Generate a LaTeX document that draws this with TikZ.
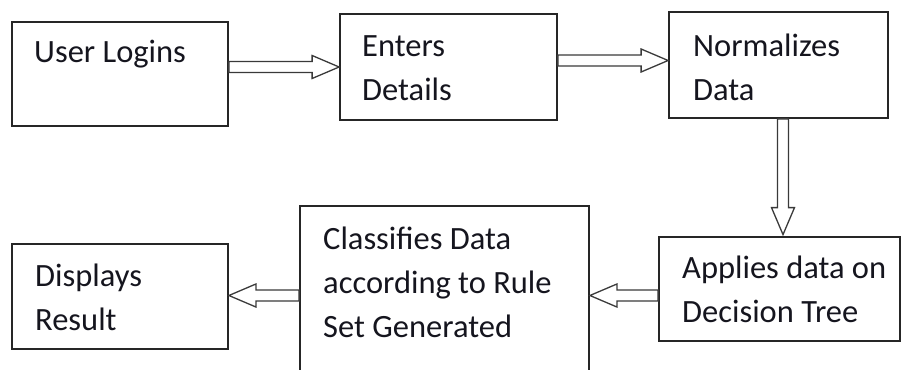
\documentclass[tikz,border=0pt]{standalone}
\usepackage{fontspec}
\setmainfont{Carlito}
\usetikzlibrary{calc}
\definecolor{boxline}{HTML}{262626}
\definecolor{arrline}{HTML}{3A3A3A}
\definecolor{txt}{HTML}{15151E}
\tikzset{
  procbox/.style={draw=boxline, line width=1.8pt, rectangle, inner sep=0pt},
  boxtext/.style={anchor=base west, align=left, inner sep=0pt, text=txt,
    font=\fontsize{32.5}{44}\selectfont},
  blockarrow/.style={draw=arrline, line width=1.3pt, fill=white, line join=miter}
}
\newcommand\blockarr[2]{%
  \coordinate (ah) at ($(#2)!27pt!(#1)$);
  \draw[blockarrow]
    ($(#1)!5.5pt!90:(#2)$) -- ($(ah)!5.5pt!-90:(#1)$) -- ($(ah)!11.5pt!-90:(#1)$)
    -- (#2) -- ($(ah)!11.5pt!90:(#1)$) -- ($(ah)!5.5pt!90:(#1)$)
    -- ($(#1)!5.5pt!-90:(#2)$) -- cycle;
}
\begin{document}
\begin{tikzpicture}[x=1pt,y=-1pt]
\useasboundingbox (0,0) rectangle (901,369);
\clip (0,0) rectangle (901,369);
% boxes
\node[procbox, minimum width=216pt, minimum height=104pt] (b1) at (120,74) {};
\node[procbox, minimum width=217pt, minimum height=106pt] (b2) at (448.5,67) {};
\node[procbox, minimum width=219pt, minimum height=106pt] (b3) at (778.5,65) {};
\node[procbox, minimum width=241pt, minimum height=104pt] (b4) at (779.5,289) {};
\node[procbox, minimum width=289pt, minimum height=184pt] (b5) at (444.5,298) {};
\node[procbox, minimum width=216pt, minimum height=105pt] (b6) at (120,296.5) {};
% texts (anchored at the baseline of the last line)
\node[boxtext] (t1) at (34,63) {User Logins};
\node[boxtext] (t2) at (362,100.5) {Enters\\Details};
\node[boxtext] (t3) at (693,100) {Normalizes\\Data};
\node[boxtext] (t4) at (682,322) {Applies data on\\Decision Tree};
\node[boxtext] (t5) at (323,337) {Classifies Data\\according to Rule\\Set Generated};
\node[boxtext] (t6) at (35,330.5) {Displays\\Result};
% connectors
\coordinate (a1s) at (b1.east |- b2.west);
\coordinate (a1e) at (b2.west);
\blockarr{a1s}{a1e}
\coordinate (a2s) at ($(b2.east)+(0,-6.5)$);
\coordinate (a2e) at (b3.west |- a2s);
\blockarr{a2s}{a2e}
\coordinate (a3s) at ($(b3.south)+(4.5,0)$);
\coordinate (a3e) at ($(b4.north -| a3s)+(0,-1.5)$);
\blockarr{a3s}{a3e}
\coordinate (a4s) at ($(b4.west)+(0,6.5)$);
\coordinate (a4e) at (b5.east |- a4s);
\blockarr{a4s}{a4e}
\coordinate (a5s) at ($(b5.west)+(0,-2.5)$);
\coordinate (a5e) at (b6.east |- a5s);
\blockarr{a5s}{a5e}
\end{tikzpicture}
\end{document}
